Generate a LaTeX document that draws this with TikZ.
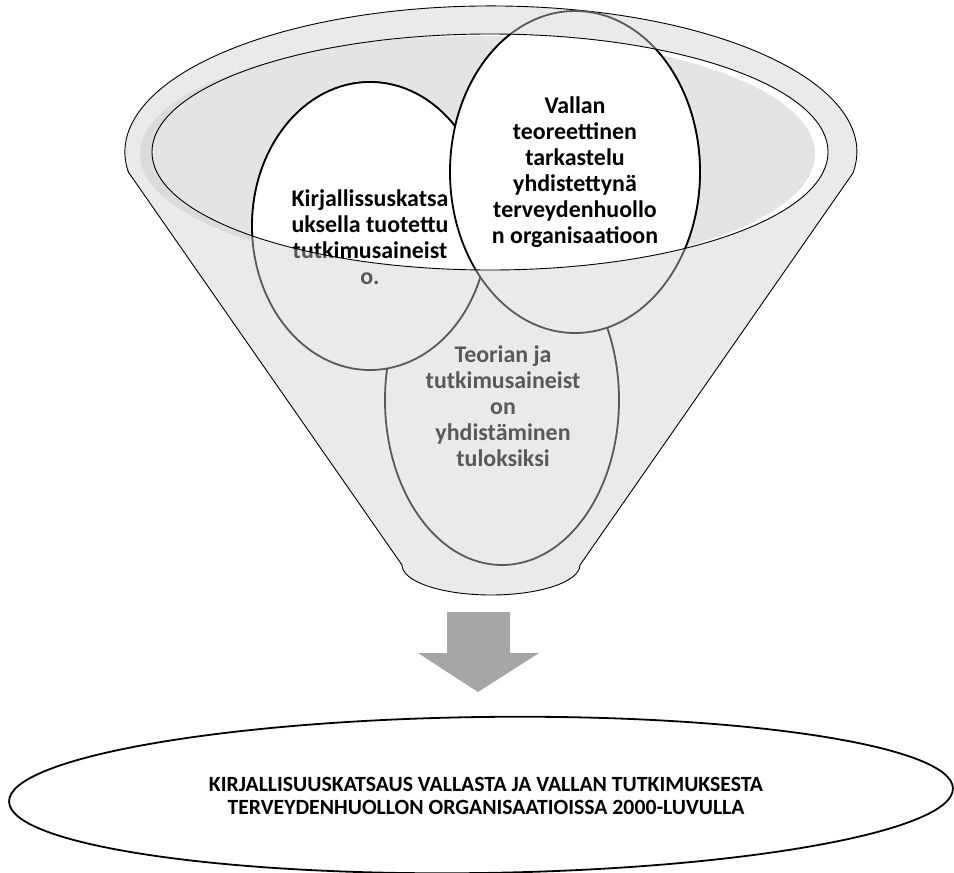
\documentclass[tikz,border=0pt]{standalone}
\usepackage{fontspec}
\setmainfont{Carlito}
\definecolor{bodygray}{HTML}{EAEAEA}
\definecolor{shadowgray}{HTML}{DBDBDB}
\definecolor{innergray}{HTML}{E4E4E4}
\definecolor{arrowgray}{HTML}{A6A6A6}
\definecolor{textgray}{HTML}{595959}
\tikzset{
  funnelline/.style={draw=black, line width=0.9bp},
  circgray/.style={fill=bodygray, draw=textgray, line width=1.8bp},
  circtop/.style={fill=white, draw=black, line width=1.8bp},
  bigtext/.style={align=center, font=\fontsize{24}{26}\selectfont\bfseries, inner sep=0pt},
  bottomtext/.style={align=center, font=\fontsize{21.8}{22.5}\selectfont\bfseries, inner sep=0pt}
}
\begin{document}
\begin{tikzpicture}[x=1bp,y=-1bp]
\useasboundingbox (0,0) rectangle (954,873);
\fill[white] (0,0) rectangle (954,873);
% funnel body and rim
\path[fill=bodygray, funnelline] (129,173) -- (402,565)
  arc[start angle=180, end angle=0, x radius=89, y radius=30] -- (853,173)
  arc[start angle=8.3, end angle=-188.3, x radius=366, y radius=146] -- cycle;
% inner rim with shadow
\fill[shadowgray] (478,154) ellipse[x radius=338, y radius=117];
\fill[white] (490,152) ellipse[x radius=338, y radius=118];
\begin{scope}
  \clip (490,152) ellipse[x radius=338, y radius=118];
  \fill[innergray] (477,154) ellipse[x radius=338, y radius=118];
\end{scope}
% circles, lower (gray) layer
\draw[circgray] (502,400) ellipse[x radius=117, y radius=165];
\draw[circgray] (370,226) ellipse[x radius=118, y radius=144];
\draw[circgray] (575,172) ellipse[x radius=125, y radius=161];
\node[bigtext, text=textgray] (teoria) at (503,406) {Teorian ja\\tutkimusaineist\\on\\yhdistäminen\\tuloksiksi};
\node[bigtext, text=textgray] (kirjg) at (370,237) {Kirjallissuskatsa\\uksella tuotettu\\tutkimusaineist\\o.};
\node[bigtext, text=textgray] (vallg) at (575,172) {Vallan\\teoreettinen\\tarkastelu\\yhdistettynä\\terveydenhuollo\\n organisaatioon};
% circles, upper (white) layer inside the rim
\begin{scope}
  \clip (490,152) ellipse[x radius=338, y radius=118];
  \draw[circtop] (370,226) ellipse[x radius=118, y radius=144];
  \draw[circtop] (575,172) ellipse[x radius=125, y radius=161];
  \node[bigtext, text=black] (kirj) at (370,237) {Kirjallissuskatsa\\uksella tuotettu\\tutkimusaineist\\o.};
  \node[bigtext, text=black] (vall) at (575,172) {Vallan\\teoreettinen\\tarkastelu\\yhdistettynä\\terveydenhuollo\\n organisaatioon};
\end{scope}
\draw[black, line width=0.9bp] (490,152) ellipse[x radius=338, y radius=118];
% arrow
\fill[arrowgray] (447,612) -- (510,612) -- (510,653) -- (539,653) -- (478,692)
  -- (418,653) -- (447,653) -- cycle;
% result ellipse
\draw[black, line width=1.8bp, rotate around={0.8:(481,795)}] (481,795) ellipse[x radius=472, y radius=78];
\node[bottomtext] (result) at (486,796) {KIRJALLISUUSKATSAUS VALLASTA JA VALLAN TUTKIMUKSESTA\\TERVEYDENHUOLLON ORGANISAATIOISSA 2000-LUVULLA};
\end{tikzpicture}
\end{document}
